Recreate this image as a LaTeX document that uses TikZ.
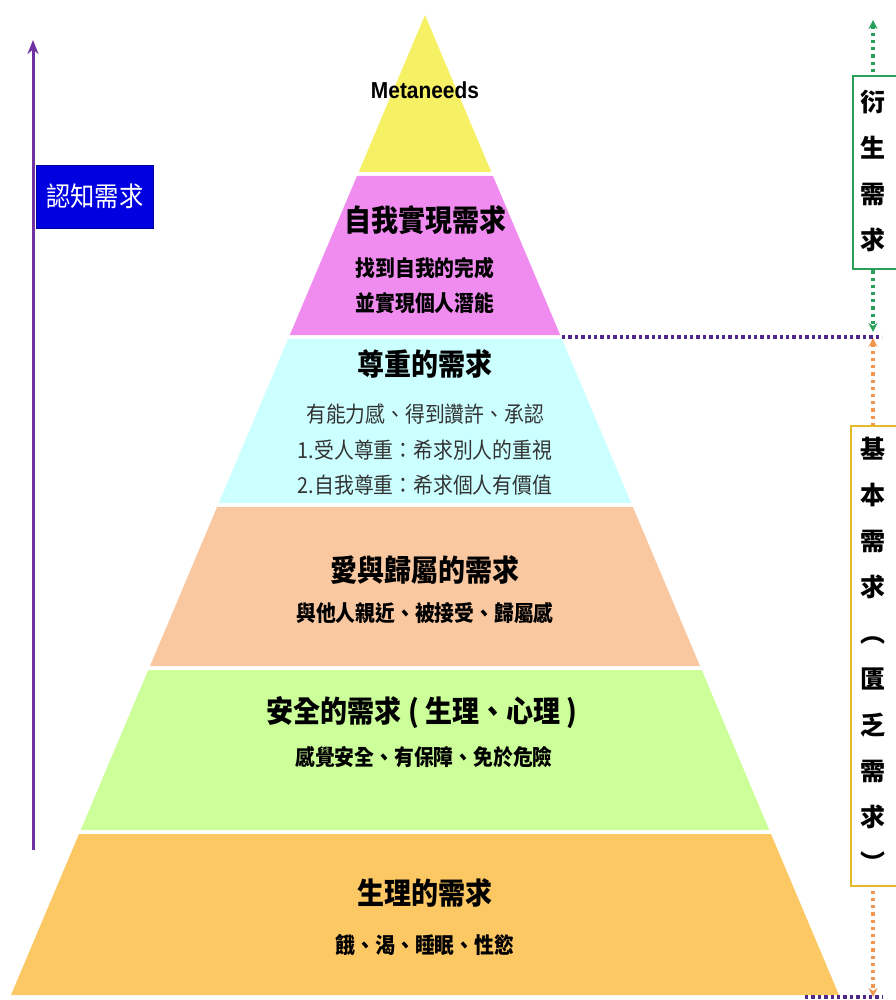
\documentclass[tikz,border=0pt]{standalone}
\usepackage{fontspec}
\usepackage{graphicx}
\setmainfont{Liberation Sans}
\newfontfamily\cjk{Noto Sans CJK TC}
\usetikzlibrary{arrows.meta}
\definecolor{cyel}{RGB}{245,240,100}
\definecolor{cpink}{RGB}{240,140,240}
\definecolor{ccyan}{RGB}{204,255,255}
\definecolor{cpeach}{RGB}{250,200,160}
\definecolor{cgreen}{RGB}{204,255,153}
\definecolor{corange}{RGB}{252,200,100}
\definecolor{cblue}{RGB}{0,0,225}
\definecolor{cpurple}{RGB}{112,50,160}
\definecolor{cdpurple}{RGB}{80,40,140}
\definecolor{cgarrow}{RGB}{40,160,90}
\definecolor{coarrow}{RGB}{240,150,80}
\definecolor{cybox}{RGB}{230,185,40}
\newcommand\sqz[1]{\scalebox{0.9}[1]{#1}}
\begin{document}
\begin{tikzpicture}[x=1pt,y=-1pt,
  ttl/.style={font=\cjk\bfseries\fontsize{30}{30}\selectfont, inner sep=0pt},
  sub/.style={font=\cjk\bfseries\fontsize{22}{22}\selectfont, inner sep=0pt},
  subr/.style={font=\cjk\fontsize{22}{22}\selectfont, inner sep=0pt, text=black!80},
  vbox/.style={draw, line width=1.8pt, fill=white, inner sep=0pt},
  vtxt/.style={font=\cjk\bfseries\fontsize{25}{46}\selectfont, align=center, inner sep=0pt},
  dotline/.style={line width=3.4pt, dash pattern=on 3.4pt off 3pt},
  vdot/.style={line width=3.4pt, dash pattern=on 3.2pt off 4pt},
  both/.style={{Stealth[length=9pt,width=9pt]}-{Stealth[length=9pt,width=9pt]}}
]
\useasboundingbox (0,0) rectangle (895,1000);
% pyramid layers
\fill[cyel]    (425,15) -- (491.3,172) -- (358.7,172) -- cycle;
\fill[cpink]   (357,176) -- (493,176) -- (560.2,335) -- (289.8,335) -- cycle;
\fill[ccyan]   (288.1,339) -- (561.9,339) -- (631.2,503) -- (218.8,503) -- cycle;
\fill[cpeach]  (217.1,507) -- (632.9,507) -- (700,666) -- (150,666) -- cycle;
\fill[cgreen]  (148.3,670) -- (701.7,670) -- (769.3,830) -- (80.7,830) -- cycle;
\fill[corange] (79,834) -- (771,834) -- (839,995) -- (11,995) -- cycle;

% texts
\node[font=\bfseries\fontsize{22}{22}\selectfont, inner sep=0pt] (meta) at (425,90) {\scalebox{0.95}[1.05]{Metaneeds}};
\node[ttl] (t1) at (425,220) {\sqz{自我實現需求}};
\node[sub] (s1a) at (425,268) {\sqz{找到自我的完成}};
\node[sub] (s1b) at (425,303) {\sqz{並實現個人潛能}};
\node[ttl] (t2) at (425,364) {\sqz{尊重的需求}};
\node[subr] (s2a) at (425,414) {\sqz{有能力感、得到讚許、承認}};
\node[subr] (s2b) at (425,450) {\sqz{1.受人尊重：希求別人的重視}};
\node[subr] (s2c) at (425,485) {\sqz{2.自我尊重：希求個人有價值}};
\node[ttl] (t3) at (425,570) {\sqz{愛與歸屬的需求}};
\node[sub] (s3) at (425,613) {\sqz{與他人親近、被接受、歸屬感}};
\node[ttl] (t4) at (422,713) {\sqz{安全的需求 ( 生理、心理 )}};
\node[sub] (s4) at (424,757) {\sqz{感覺安全、有保障、免於危險}};
\node[ttl] (t5) at (425,893) {\sqz{生理的需求}};
\node[sub] (s5) at (425,945) {\sqz{餓、渴、睡眠、性慾}};

% left cognitive arrow
\coordinate (lb) at (33,850);
\coordinate (lt) at (33,40);
\draw[cpurple, line width=3pt, -{Stealth[length=14pt,width=11pt]}] (lb) -- (lt);
\node[fill=cblue, draw=cblue!70!black, minimum width=117pt, minimum height=63pt, inner sep=0pt, anchor=north west, text=white, font=\cjk\fontsize{27}{27}\selectfont] (cog) at (36,165) {\sqz{認知需求}};

% right side arrows
\coordinate (gt) at (873,20);
\coordinate (gb) at (873,332);
\coordinate (ot) at (873,338);
\coordinate (ob) at (873,997);
\draw[cgarrow, vdot, both] (gt) -- (gb);
\draw[coarrow, vdot, both] (ot) -- (ob);

\coordinate (h1a) at (562,337);
\coordinate (h1b) at (882,337);
\coordinate (h2a) at (805,997);
\coordinate (h2b) at (882,997);
\draw[cdpurple, dotline] (h1a) -- (h1b);
\draw[cdpurple, dotline] (h2a) -- (h2b);

\node[vbox, draw=cgarrow, minimum width=46pt, minimum height=193pt, anchor=north west] (gbox) at (852,75) {};
\node[vtxt] (gtext) at (873,171) {衍\\生\\需\\求};
\node[vbox, draw=cybox, minimum width=48pt, minimum height=460pt, anchor=north west] (ybox) at (850,425) {};
\node[vtxt] (ytext) at (873,655) {基\\本\\需\\求\\︵\\匱\\乏\\需\\求\\︶};
\end{tikzpicture}
\end{document}
